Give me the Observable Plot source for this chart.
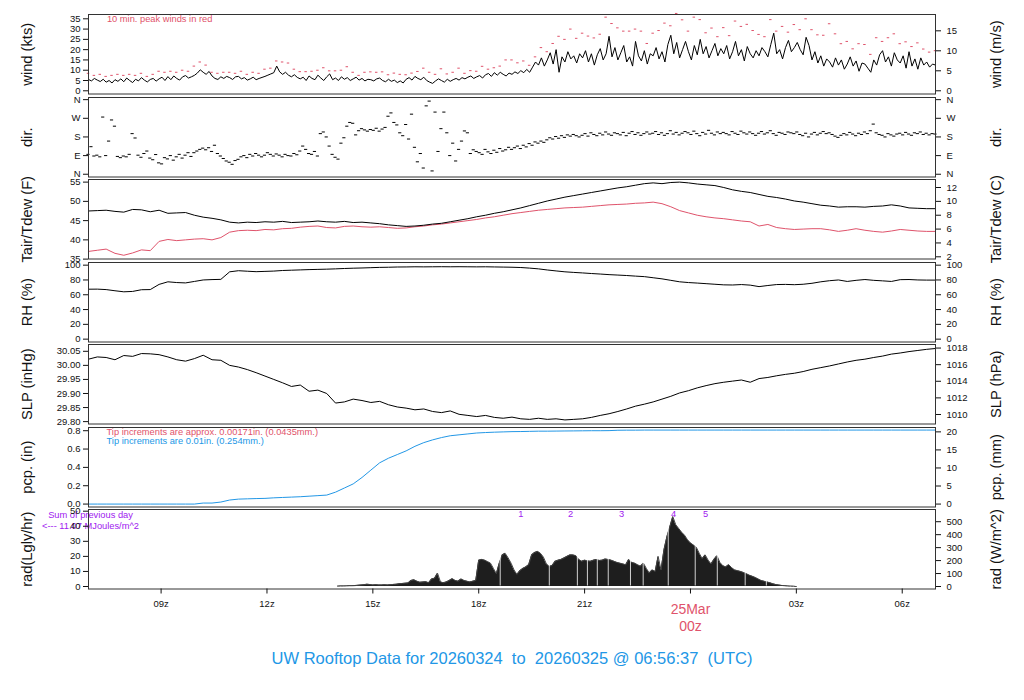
<!DOCTYPE html>
<html><head><meta charset="utf-8">
<script src="https://cdn.jsdelivr.net/npm/d3@7"></script>
<script src="https://cdn.jsdelivr.net/npm/@observablehq/plot@0.6"></script>
<style>
body{margin:0;background:#fff;}
#chart{position:relative;width:1024px;height:700px;font-family:"Liberation Sans",Arial,Helvetica,sans-serif;overflow:hidden;background:#fff;}
#chart svg{position:absolute;left:0;}
#title{position:absolute;left:0;width:1024px;top:649px;text-align:center;font-size:16.5px;color:#2297E6;white-space:pre;}
</style></head><body><div id="chart"><div id="title"></div></div><script>
// ---- time frame (hours after 24 Mar 00z) ----
const startHour = 6.943;           // 06:56:37 UTC on 20260324
const titleText = "UW Rooftop Data for 20260324  to  20260325 @ 06:56:37  (UTC)";
const xTickHours = [9, 12, 15, 18, 21, 24, 27, 30];
const xTickLabels = ["09z", "12z", "15z", "18z", "21z", "", "03z", "06z"];
const dayLabel = "25Mar\n00z";
const dayLabelHour = 24;

// ---- wind speed (kts), every 5 min ----
const windKts = [
5.5,4.8,6.0,5.2,4.5,5.6,4.2,5.0,3.8,5.4,4.6,5.8,
4.4,6.2,5.0,4.0,5.6,4.8,6.4,5.2,4.3,5.5,6.0,4.7,
5.8,6.6,5.0,6.9,5.4,7.2,6.0,5.2,6.8,7.4,6.2,6.8,
7.5,8.6,10.2,9.0,8.0,9.4,7.2,6.0,5.5,6.8,6.0,7.0,
6.4,5.5,6.8,7.0,5.8,6.4,5.2,5.8,6.6,5.4,6.0,6.5,
7.0,7.6,8.2,8.8,12.0,9.2,8.0,9.0,7.6,6.8,7.8,6.5,
5.8,6.6,5.0,7.2,6.0,5.4,7.6,6.2,5.0,6.8,8.2,5.4,
6.2,5.0,6.8,5.6,6.4,5.0,5.8,6.6,5.2,6.0,4.8,5.6,
5.4,4.8,5.8,6.2,5.0,4.4,5.6,4.6,5.2,4.0,4.8,3.8,
5.6,6.4,5.2,7.0,6.0,5.4,6.6,5.0,4.2,3.6,4.8,5.8,
5.0,4.2,5.6,4.6,5.4,6.0,5.2,6.4,5.8,6.6,7.2,6.0,
6.8,7.4,6.2,7.8,8.4,7.0,8.8,7.6,9.0,8.0,7.2,8.6,
8.0,9.2,8.4,9.8,8.8,10.4,9.0,11.5,14.0,12.5,16.0,12.0,
15.0,18.5,13.0,20.0,9.0,16.5,14.0,19.0,15.5,17.0,13.5,18.0,
16.0,19.5,14.0,18.0,12.5,17.5,20.5,15.0,18.0,26.5,16.5,21.0,
15.0,18.5,22.0,14.0,16.5,12.0,24.0,17.0,14.5,19.5,13.0,18.0,
17.0,21.0,15.5,19.0,14.0,22.5,27.0,18.0,23.5,16.0,20.0,24.0,
19.0,15.0,22.0,17.5,25.0,18.0,21.5,16.0,19.5,23.0,17.0,20.5,
18.0,22.0,15.5,19.0,24.0,17.0,20.0,14.5,21.5,18.0,16.0,19.5,
17.0,21.0,19.0,16.5,22.5,28.0,18.0,20.0,15.5,21.0,24.5,19.0,
21.0,23.5,20.0,17.5,26.0,22.0,15.0,19.0,13.5,17.0,12.0,15.5,
14.0,11.5,16.0,12.5,15.0,10.5,13.0,16.5,12.0,14.5,9.5,13.5,
13.0,11.0,9.0,15.0,12.5,17.5,19.5,14.0,16.5,12.0,18.5,15.0,
13.5,17.0,11.0,19.0,12.0,15.5,10.5,16.0,12.5,14.0,11.5,13.0,
12.5];
// ---- 10 min peak wind (kts), every 10 min ----
const gustKts = [
8.5,7.5,8.0,7.0,7.5,8.0,
7.5,8.0,7.5,8.5,7.0,8.0,
9.5,9.0,9.5,9.0,10.0,9.5,
12.0,14.0,12.5,9.0,8.5,9.0,
9.0,8.5,9.5,8.0,9.0,8.5,
10.5,11.0,14.5,14.0,13.5,10.5,
9.3,9.3,9.5,10.0,11.2,9.7,
9.7,10.0,11.7,9.0,7.5,9.0,
9.2,9.0,9.2,7.8,8.6,8.0,
7.8,8.6,9.4,11.0,9.0,8.0,
10.7,8.2,9.0,11.0,8.5,9.8,
9.5,11.9,10.5,11.2,12.0,15.0,
15.0,13.6,14.5,12.4,16.5,21.0,
19.0,23.0,26.5,25.0,30.0,25.5,
28.0,26.6,25.7,27.5,35.8,32.7,
30.6,29.0,29.0,30.0,29.0,23.0,
28.0,29.3,32.9,31.6,37.6,34.5,
29.0,35.8,34.6,28.2,30.5,26.3,
30.7,26.8,33.9,31.3,32.3,29.3,
27.4,26.3,34.6,29.0,31.3,28.5,
32.2,29.7,35.0,29.7,27.2,27.0,
32.6,27.7,22.9,24.0,20.4,22.9,
22.5,17.7,25.8,24.0,25.8,27.7,
22.9,23.8,21.5,23.3,20.3,18.8,
19.5];
// ---- wind direction (deg), every 5 min ----
const windDir = [
96,133,88,92,84,276,90,160,262,232,86,80,
88,84,96,196,175,92,82,100,112,78,70,95,
55,50,80,74,90,68,84,96,78,92,104,86,
104,112,120,126,118,128,110,140,100,88,76,64,
58,48,66,72,84,90,80,96,88,100,92,84,
92,104,96,88,98,92,84,96,90,88,100,94,
112,136,120,100,96,110,88,196,204,180,136,96,
82,73,150,176,232,250,246,190,210,220,214,208,
216,212,222,208,218,226,280,296,250,238,200,186,
240,170,290,130,60,100,30,330,353,16,300,110,
220,300,200,90,150,64,120,160,209,200,100,118,
110,104,96,120,108,100,116,106,124,112,118,130,
120,128,136,124,140,132,148,140,156,150,160,154,
166,176,170,182,174,186,178,190,184,192,186,180,
188,196,184,200,192,186,198,190,204,194,188,200,
196,190,202,186,198,206,192,200,188,196,204,194,
198,206,192,200,188,196,210,194,202,190,198,206,
200,192,208,196,186,202,194,212,198,190,204,196,
202,196,190,206,198,192,208,200,194,204,196,188,
198,206,194,200,210,196,188,202,198,192,204,200,
196,204,192,186,198,180,194,202,190,198,206,196,
200,192,184,178,188,196,190,202,194,186,198,192,
204,196,210,242,200,192,188,180,196,190,184,194,
198,190,202,194,188,200,196,204,192,198,190,196,
194];
// ---- air temperature and dew point (F), every 15 min ----
const tairF = [
47.5,47.6,47.7,47.4, 47.2,47.9,47.8,47.3, 47.7,46.9,47.0,47.1, 46.4,45.9,45.6,45.2,
44.6,44.4,44.6,44.5, 44.7,44.6,44.8,44.5, 44.6,44.7,44.9,44.7, 44.6,44.8,44.5,44.6,
44.4,44.2,43.9,43.7, 43.5,43.6,43.8,44.1, 44.3,44.7,45.1,45.5, 46.0,46.4,46.9,47.3,
47.8,48.3,48.9,49.5, 50.1,50.6,51.1,51.5, 51.9,52.3,52.7,53.1, 53.5,53.8,54.2,54.6,
54.8,54.6,54.9,55.0, 54.8,54.5,54.3,54.1, 53.6,53.0,52.6,52.3, 51.8,51.3,51.0,50.6,
50.1,49.8,49.4,49.0, 48.8,48.5,48.6,48.6, 48.5,48.7,48.8,49.1, 48.8,48.3,48.2,48.1,
48.1];
const tdewF = [
37.0,37.3,37.6,36.5, 36.0,36.6,37.4,37.2, 39.6,40.1,39.8,40.0, 40.2,40.3,40.0,40.6,
42.0,42.4,42.5,42.4, 42.7,42.6,42.9,43.0, 43.3,43.5,43.6,43.2, 43.1,43.5,43.6,43.4,
43.3,43.4,43.2,43.0, 43.1,43.4,43.6,43.9, 44.1,44.4,44.7,45.0, 45.3,45.7,46.0,46.4,
46.8,47.1,47.4,47.7, 47.9,48.1,48.3,48.4, 48.5,48.7,48.9,49.1, 49.2,49.3,49.5,49.6,
49.8,49.4,48.6,47.6, 47.0,46.4,46.0,45.7, 45.5,45.2,44.9,44.7, 43.6,44.0,43.2,42.9,
42.7,42.8,42.9,42.9, 42.6,42.2,42.5,42.9, 42.5,42.2,42.0,42.3, 42.7,42.5,42.3,42.2,
42.2];
// ---- relative humidity (%), every 15 min ----
const rhPct = [
67.5,67.6,67.0,65.4, 64.0,64.5,66.8,67.0, 74.0,77.5,76.5,76.0, 78.0,80.0,80.5,80.8,
91.0,92.5,91.8,91.2, 91.6,92.0,92.8,93.2, 93.6,94.0,94.3,94.6, 95.0,95.5,95.9,96.2,
96.6,97.0,97.2,97.5, 97.6,97.8,97.7,97.8, 97.9,97.8,97.9,97.8, 97.7,97.8,97.6,97.4,
97.2,96.8,96.0,95.0, 93.5,92.2,91.0,90.2, 89.5,88.7,88.0,87.2, 86.6,86.0,85.2,84.5,
83.0,81.5,79.5,77.5, 76.5,75.8,75.0,74.2, 73.4,73.2,73.8,73.0, 71.0,72.5,73.8,74.0,
73.6,74.2,75.5,77.5, 79.0,80.0,78.0,79.5, 80.6,79.5,78.8,78.0, 80.4,80.6,80.0,79.8,
79.8];
// ---- sea level pressure (inHg), every 15 min ----
const slpInHg = [
30.022,30.030,30.028,30.020, 30.035,30.032,30.042,30.041, 30.038,30.030,30.020,30.015, 30.024,30.036,30.020,30.018,
30.000,29.994,29.985,29.974, 29.962,29.950,29.938,29.925, 29.930,29.908,29.912,29.900, 29.866,29.870,29.880,29.875,
29.868,29.872,29.860,29.852, 29.848,29.842,29.845,29.836, 29.832,29.838,29.826,29.822, 29.818,29.822,29.815,29.812,
29.816,29.810,29.808,29.812, 29.808,29.810,29.806,29.808, 29.810,29.815,29.822,29.828, 29.836,29.845,29.855,29.862,
29.870,29.880,29.890,29.902, 29.910,29.920,29.928,29.935, 29.940,29.944,29.948,29.940, 29.953,29.957,29.963,29.968,
29.972,29.978,29.986,29.992, 29.998,30.005,30.012,30.018, 30.022,30.028,30.033,30.040, 30.044,30.049,30.053,30.057,
30.060];
// ---- accumulated precipitation (in), every 15 min ----
const pcpIn = [
0,0,0,0, 0,0,0,0, 0,0,0,0, 0,0.011,0.011,0.022,
0.044,0.054,0.057,0.060, 0.062,0.068,0.072,0.076, 0.080,0.086,0.092,0.098, 0.130,0.175,0.220,0.290,
0.370,0.450,0.500,0.540, 0.580,0.630,0.670,0.700, 0.725,0.745,0.755,0.765, 0.775,0.780,0.784,0.787,
0.790,0.791,0.793,0.795, 0.795,0.796,0.797,0.798, 0.799,0.800,0.800,0.801, 0.805,0.806,0.806,0.807,
0.807,0.807,0.807,0.807, 0.807,0.807,0.807,0.807, 0.807,0.807,0.807,0.807, 0.807,0.807,0.807,0.807,
0.807,0.807,0.807,0.807, 0.807,0.807,0.807,0.807, 0.807,0.807,0.807,0.807, 0.807,0.807,0.807,0.807,
0.807];
// ---- solar radiation (Lgly/hr), every 5 min from 14z ----
const radStartHour = 14.0;
const radLy = [
0.2,0.3,0.3,0.4,0.5,0.5,0.6,0.8,1.0,1.2,1.5,1.3,
1.0,1.2,1.0,1.0,1.1,1.0,1.2,1.4,1.5,1.8,2.0,2.2,
2.4,4.0,4.4,3.5,2.8,3.0,3.2,2.5,5.0,5.5,8.8,3.0,
2.5,3.0,4.0,5.2,4.0,3.5,5.0,4.0,3.5,3.0,3.5,4.0,
17.5,18.0,17.5,16.5,15.5,12.0,8.5,15.5,21.0,22.0,19.0,15.5,
11.0,8.0,10.5,12.0,13.0,14.4,21.0,22.5,23.3,22.0,19.5,15.0,
13.3,14.0,16.7,17.5,18.0,18.9,20.0,21.0,21.0,20.5,18.0,16.7,
17.5,17.0,16.7,17.5,17.9,17.3,17.5,18.2,18.0,17.5,16.7,16.0,
15.5,15.0,14.4,18.0,16.0,15.5,14.4,13.5,15.5,12.0,8.9,11.0,
10.0,20.0,11.0,24.4,33.0,39.7,46.4,41.0,38.5,36.0,34.0,31.0,
28.9,27.5,26.0,22.0,18.5,21.0,17.5,15.0,18.0,20.4,16.0,13.8,
13.0,14.5,12.5,11.0,10.5,10.0,9.3,8.5,7.5,6.8,6.0,5.0,
4.0,3.5,3.0,2.5,1.8,1.3,1.0,0.7,0.5,0.3,0.2,0.1,
0];
const radGapHours = [18.609, 20.0, 20.795, 21.08, 21.36, 21.67, 22.3, 22.66, 23.37, 24.135, 24.76, 25.55, 26.15];
const radMarkHours = [19.19, 20.60, 22.05, 23.52, 24.43];
const radMarkLabels = ["1", "2", "3", "4", "5"];

// ---- texts ----
const windNote = "10 min. peak winds in red";
const tipNoteRed = "Tip increments are approx. 0.00171in. (0.0435mm.)";
const tipNoteBlue = "Tip increments are 0.01in. (0.254mm.)";
const sumNote = "Sum of previous day\n<--- 11.07 MJoules/m^2";

// ---- axis tick sets ----
const windTicks = [0, 5, 10, 15, 20, 25, 30, 35];
const windMsTicks = [0, 5, 10, 15];
const dirTicks = [0, 90, 180, 270, 360];
const dirNames = ["N", "E", "S", "W", "N"];
const tempFTicks = [35, 40, 45, 50, 55];
const tempCTicks = [2, 4, 6, 8, 10, 12];
const rhTicks = [0, 20, 40, 60, 80, 100];
const slpTicks = [29.80, 29.85, 29.90, 29.95, 30.00, 30.05];
const slpHpaTicks = [1010, 1012, 1014, 1016, 1018];
const pcpTicks = [0, 0.2, 0.4, 0.6, 0.8];
const pcpMmTicks = [0, 5, 10, 15, 20];
const radTicks = [0, 10, 20, 30, 40, 50];
const radWTicks = [0, 100, 200, 300, 400, 500];

// unit conversions (for the right-hand axes)
const KT_PER_MS = 1.943844, INHG_PER_HPA = 0.0295300, MM_PER_IN = 25.4, LY_PER_W = 0.086042;

const RED = "#DF536B", BLUE = "#2297E6", PURPLE = "#A020F0";
const FONT = '"Liberation Sans", Arial, Helvetica, sans-serif';
const X_DOMAIN = [startHour, startHour + 24];
const BOX_H = 79.5;
const chart = document.getElementById("chart");
document.getElementById("title").textContent = titleText;

const ser = (values, t0, stepMin) => values.map((v, i) => ({t: t0 + i * stepMin / 60, v}));

function panel(o) {
  const mt = 8, mb = o.bottom ? 60 : 8;
  const marks = [
    ...o.marks,
    Plot.frame({stroke: "#333"}),
    Plot.axisY(o.lTicks, {anchor: "left", tickSize: 5, tickPadding: 3, tickFormat: o.lFmt, fontSize: 9.5, label: null}),
    Plot.axisY(o.rTicks, {anchor: "right", tickSize: 5, tickPadding: 6, tickFormat: o.rFmt, fontSize: 9.5, label: null}),
    Plot.text([o.lLabel], {frameAnchor: "left", dx: -61, rotate: -90, textAnchor: "middle", lineAnchor: "middle",
      fontSize: 14.7, text: d => d}),
    Plot.text([o.rLabel], {frameAnchor: "right", dx: 61, rotate: -90, textAnchor: "middle", lineAnchor: "middle",
      fontSize: 14.7, text: d => d})
  ];
  if (o.bottom) marks.push(
    Plot.axisX(xTickHours, {tickSize: 5, tickPadding: 6, fontSize: 9.5, label: null,
      tickFormat: d => xTickLabels[xTickHours.indexOf(d)]}),
    Plot.text([dayLabel], {x: () => dayLabelHour, frameAnchor: "bottom", dy: 13.7, lineAnchor: "top",
      fill: RED, fontSize: 14, lineHeight: 1.18, text: d => d})
  );
  const svg = Plot.plot({
    width: 1024, height: BOX_H + mt + mb,
    marginLeft: 88, marginRight: 89, marginTop: mt, marginBottom: mb,
    x: {domain: X_DOMAIN, axis: null},
    y: {domain: o.domain, axis: null},
    style: {background: "transparent", overflow: "visible", fontFamily: FONT, color: "#111"},
    marks
  });
  svg.style.top = (o.top - mt) + "px";
  chart.appendChild(svg);
}

const wind = ser(windKts, startHour, 5);
const gust = ser(gustKts, startHour, 10);
const dir = ser(windDir, startHour, 5);
const tair = ser(tairF, startHour, 15);
const tdew = ser(tdewF, startHour, 15);
const rh = ser(rhPct, startHour, 15);
const slp = ser(slpInHg, startHour, 15);
const pcp = ser(pcpIn, startHour, 15);
const rad = ser(radLy, radStartHour, 5);

panel({top: 14, domain: [-1.56, 37.09],
  lTicks: windTicks, lFmt: d => String(d),
  rTicks: windMsTicks.map(v => v * KT_PER_MS), rFmt: d => String(Math.round(d / KT_PER_MS)),
  lLabel: "wind (kts)", rLabel: "wind (m/s)",
  marks: [
    Plot.line(wind, {x: "t", y: "v", stroke: "#000", strokeWidth: 1}),
    Plot.ruleY(gust, {y: "v", x1: d => d.t - 0.035, x2: d => d.t + 0.035, stroke: RED, strokeWidth: 1}),
    Plot.text([windNote], {frameAnchor: "top-left", dx: 18.4, dy: 1.3, fill: RED, fontSize: 9.3, text: d => d})
  ]});

panel({top: 96.55, domain: [-13.3, 370.4],
  lTicks: dirTicks, lFmt: d => dirNames[dirTicks.indexOf(d)],
  rTicks: dirTicks, rFmt: d => dirNames[dirTicks.indexOf(d)],
  lLabel: "dir.", rLabel: "dir.",
  marks: [
    Plot.ruleY(dir, {y: "v", x1: d => d.t - 0.045, x2: d => d.t + 0.045, stroke: "#000", strokeWidth: 1})
  ]});

panel({top: 179.1, domain: [35.03, 55.68],
  lTicks: tempFTicks, lFmt: d => String(d),
  rTicks: tempCTicks.map(c => c * 1.8 + 32), rFmt: d => String(Math.round((d - 32) / 1.8)),
  lLabel: "Tair/Tdew (F)", rLabel: "Tair/Tdew (C)",
  marks: [
    Plot.line(tdew, {x: "t", y: "v", stroke: RED, strokeWidth: 1}),
    Plot.line(tair, {x: "t", y: "v", stroke: "#000", strokeWidth: 1})
  ]});

panel({top: 261.65, domain: [-3.85, 103.6],
  lTicks: rhTicks, lFmt: d => String(d),
  rTicks: rhTicks, rFmt: d => String(d),
  lLabel: "RH (%)", rLabel: "RH (%)",
  marks: [Plot.line(rh, {x: "t", y: "v", stroke: "#000", strokeWidth: 1})]});

panel({top: 344.2, domain: [29.7915, 30.0742],
  lTicks: slpTicks, lFmt: d => d.toFixed(2),
  rTicks: slpHpaTicks.map(h => h * INHG_PER_HPA), rFmt: d => String(Math.round(d / INHG_PER_HPA)),
  lLabel: "SLP (inHg)", rLabel: "SLP (hPa)",
  marks: [Plot.line(slp, {x: "t", y: "v", stroke: "#000", strokeWidth: 1})]});

panel({top: 426.75, domain: [-0.032, 0.835],
  lTicks: pcpTicks, lFmt: d => d.toFixed(1),
  rTicks: pcpMmTicks.map(m => m / MM_PER_IN), rFmt: d => String(Math.round(d * MM_PER_IN)),
  lLabel: "pcp. (in)", rLabel: "pcp. (mm)",
  marks: [
    Plot.line(pcp, {x: "t", y: "v", stroke: BLUE, strokeWidth: 1}),
    Plot.text([tipNoteRed], {frameAnchor: "top-left", dx: 18, dy: 1.3, fill: RED, fontSize: 9.3, text: d => d}),
    Plot.text([tipNoteBlue], {frameAnchor: "top-left", dx: 18, dy: 10.3, fill: BLUE, fontSize: 9.3, text: d => d})
  ]});

panel({top: 509.3, domain: [-1.66, 51.13], bottom: true,
  lTicks: radTicks, lFmt: d => String(d),
  rTicks: radWTicks.map(w => w * LY_PER_W), rFmt: d => String(Math.round(d / LY_PER_W)),
  lLabel: "rad(Lgly/hr)", rLabel: "rad (W/m^2)",
  marks: [
    Plot.areaY(rad, {x: "t", y: "v", fill: "#1e1e1e"}),
    Plot.line(rad, {x: "t", y: "v", stroke: "#444", strokeWidth: 1}),
    Plot.ruleX(radGapHours, {stroke: "#fff", strokeWidth: 0.8, insetTop: 3, insetBottom: 3}),
    Plot.text(radMarkHours, {x: d => d, frameAnchor: "top", dy: 1, lineAnchor: "top", fill: PURPLE, fontSize: 9.3,
      text: (d, i) => radMarkLabels[i]}),
    Plot.text([sumNote], {frameAnchor: "top-left", dx: 2, dy: 1, textAnchor: "middle", lineAnchor: "top",
      fill: PURPLE, fontSize: 9.3, lineHeight: 1.18, text: d => d})
  ]});
</script></body></html>
